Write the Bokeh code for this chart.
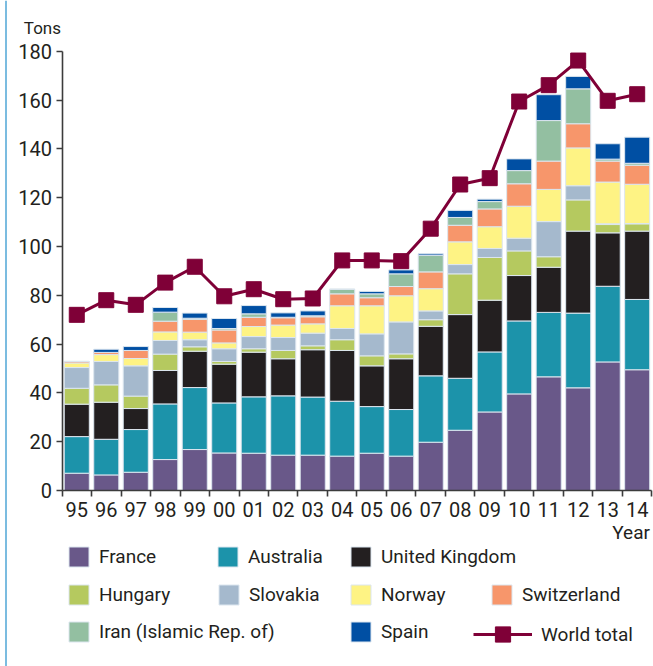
from bokeh.plotting import figure
from bokeh.models import (Range1d, FixedTicker, Legend, LegendItem, Label,
                          ColumnDataSource, Span)
from bokeh.embed import file_html
from bokeh.resources import INLINE

years = ["95", "96", "97", "98", "99", "00", "01", "02", "03", "04",
         "05", "06", "07", "08", "09", "10", "11", "12", "13", "14"]
france = [7.1, 6.4, 7.5, 12.7, 16.8, 15.4, 15.3, 14.5, 14.5, 14.1,
          15.3, 14.1, 19.8, 24.7, 32.2, 39.6, 46.6, 42.1, 52.7, 49.5]
australia = [15.0, 14.6, 17.5, 22.8, 25.4, 20.5, 23.1, 24.3, 23.8, 22.5,
             19.1, 19.1, 27.2, 21.3, 24.6, 29.9, 26.4, 30.6, 31.0, 28.8]
united_kingdom = [13.3, 15.2, 8.6, 13.7, 14.9, 15.9, 18.3, 15.2, 19.4, 20.8,
                  16.7, 20.8, 20.3, 26.1, 21.2, 18.6, 18.5, 33.6, 21.9, 28.0]
hungary = [6.5, 7.1, 5.1, 6.7, 1.8, 1.1, 1.4, 3.4, 1.6, 4.4,
           4.1, 2.0, 2.7, 16.7, 17.5, 10.1, 4.3, 12.8, 3.4, 3.0]
slovakia = [8.5, 9.6, 12.4, 5.6, 2.9, 5.2, 5.0, 5.3, 5.2, 4.6,
            9.0, 13.1, 3.6, 3.8, 3.7, 5.2, 14.4, 5.8, 0.3, 0.1]
norway = [1.9, 2.8, 3.0, 3.5, 3.1, 2.4, 4.1, 5.1, 3.8, 9.3,
          11.5, 10.7, 9.1, 9.3, 8.9, 13.1, 13.2, 15.5, 17.1, 16.1]
switzerland = [0.6, 0.9, 3.3, 4.4, 5.3, 5.3, 3.8, 3.0, 2.9, 4.9,
               3.3, 3.8, 6.9, 6.8, 7.3, 9.2, 11.6, 9.9, 8.6, 7.8]
iran = [0.0, 0.0, 0.0, 3.7, 0.4, 0.6, 1.4, 0.2, 0.4, 1.9,
        1.6, 5.2, 6.8, 3.2, 3.0, 5.4, 16.6, 14.3, 0.8, 0.8]
spain = [0.0, 1.3, 1.6, 1.9, 2.1, 4.1, 3.4, 1.8, 2.0, 0.0,
         1.0, 1.6, 0.6, 2.9, 1.0, 4.8, 10.6, 5.1, 6.3, 10.7]
world_total = [72.0, 78.0, 76.1, 85.2, 91.7, 79.6, 82.5, 78.4, 78.7, 94.3,
               94.3, 94.0, 107.3, 125.4, 128.0, 159.4, 166.1, 176.2, 159.7, 162.4]

series_names = ["France", "Australia", "United Kingdom", "Hungary", "Slovakia",
                "Norway", "Switzerland", "Iran (Islamic Rep. of)", "Spain"]
series_values = [france, australia, united_kingdom, hungary, slovakia,
                 norway, switzerland, iran, spain]
series_colors = ["#695889", "#1C93AA", "#231F20", "#B5C95F", "#A5B9CD",
                 "#FEF384", "#F7966B", "#93BFA1", "#004FA3"]
y_ticks = [0, 20, 40, 60, 80, 100, 120, 140, 160, 180]

FONT = "Roboto"
TXT = "#231F20"
AX = "#3C3C3C"
WCOL = "#7F0037"

W, H = 653, 666
n = len(years)

keys = ["s%d" % i for i in range(len(series_names))]
data = {"x": list(range(n)), "world": world_total}
for k, v in zip(keys, series_values):
    data[k] = v
src = ColumnDataSource(data)

# the frame covers the whole canvas; axes are pinned inside it
p = figure(width=W, height=H, output_backend="svg", toolbar_location=None,
           x_range=Range1d(-2.586, 19.553), y_range=Range1d(-72.1, 200.8),
           min_border=0, x_axis_location="below", y_axis_location="left")
p.outline_line_color = None
p.xgrid.grid_line_color = None
p.ygrid.grid_line_color = None
p.background_fill_color = "white"
p.border_fill_color = "white"

p.add_layout(Span(location=5.5, location_units="screen", dimension="height",
                  line_color="#4FA6D6", line_width=1.5))

bars = p.vbar_stack(keys, x="x", width=0.85, source=src, color=series_colors,
                    line_color="#DCE6EF", line_width=1)
wl = p.line(x="x", y="world", source=src, line_color=WCOL, line_width=3)
wm = p.scatter(x="x", y="world", source=src, marker="square", size=15,
               fill_color=WCOL, line_color=WCOL)

# axes
ya = p.yaxis[0]
ya.fixed_location = -0.5
ya.bounds = (0, 180)
ya.ticker = FixedTicker(ticks=y_ticks)
ya.major_tick_out = 6
ya.major_tick_in = 0
ya.minor_tick_out = 0
ya.minor_tick_in = 0
ya.major_label_standoff = 4
ya.major_label_text_font = FONT
ya.major_label_text_font_size = "20px"
ya.major_label_text_color = TXT

xa = p.xaxis[0]
xa.fixed_location = 0
xa.bounds = (-0.5, n - 0.5)
xa.ticker = FixedTicker(ticks=list(range(n)),
                        minor_ticks=[i - 0.5 for i in range(n + 1)])
xa.major_label_overrides = {i: y for i, y in enumerate(years)}
xa.major_tick_out = 0
xa.major_tick_in = 0
xa.minor_tick_out = 6
xa.minor_tick_in = 0
xa.major_label_standoff = 5
xa.major_label_text_font = FONT
xa.major_label_text_font_size = "20px"
xa.major_label_text_color = TXT

for ax in (xa, ya):
    ax.axis_line_color = AX
    ax.axis_line_width = 1.6
    ax.major_tick_line_color = AX
    ax.major_tick_line_width = 1.6
    ax.minor_tick_line_color = AX
    ax.minor_tick_line_width = 1.6

p.add_layout(Label(x=-0.5, y=180, x_offset=-1, y_offset=23, text="Tons",
                   text_align="right", text_baseline="alphabetic",
                   text_font=FONT, text_font_size="17px", text_color=TXT))
p.add_layout(Label(x=n - 0.5, y=0, x_offset=-2, y_offset=-42, text="Year",
                   text_align="right", text_baseline="alphabetic",
                   text_font=FONT, text_font_size="19px", text_color=TXT))

# legend (one small legend per entry, laid out as in the original);
# locations are pixels from the bottom-left corner of the canvas
leg_pos = [(66, 97), (215, 97), (348, 97),
           (66, 59), (216, 59), (348, 59), (489, 59),
           (66, 22), (348, 22)]


def make_legend(items, loc, gw=25, gh=25, standoff=8):
    lg = Legend(items=items, location=loc, orientation="vertical",
                padding=0, margin=0, spacing=0, glyph_width=gw, glyph_height=gh,
                label_standoff=standoff, label_text_font=FONT,
                label_text_font_size="19px", label_text_color=TXT,
                border_line_alpha=0, background_fill_alpha=0)
    p.add_layout(lg)


for r, name, loc in zip(bars, series_names, leg_pos):
    make_legend([LegendItem(label=name, renderers=[r])], loc)

make_legend([LegendItem(label="World total", renderers=[wl, wm])], (473, 13),
            gw=59, gh=38, standoff=9)

open("out.html", "w").write(file_html(p, INLINE))
